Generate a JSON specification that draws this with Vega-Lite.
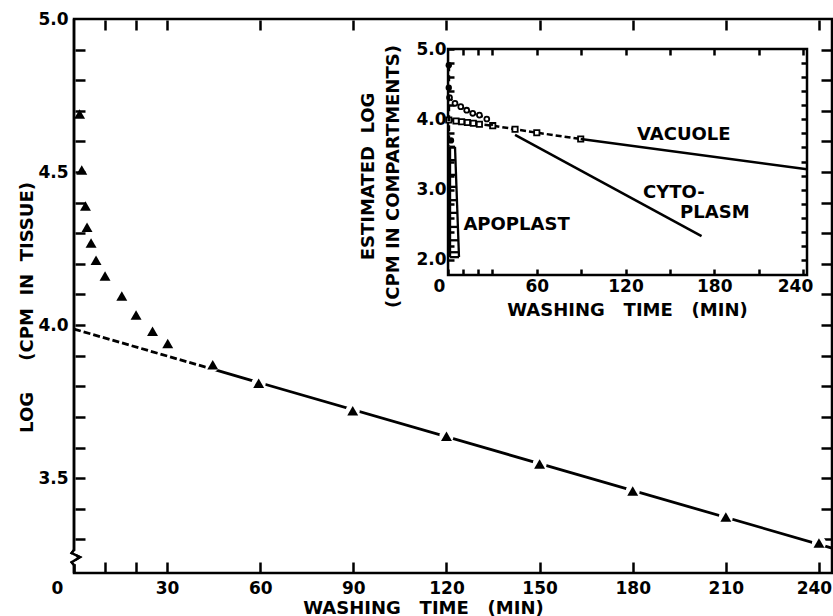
{
  "$schema": "https://vega.github.io/schema/vega-lite/v6.json",
  "width": 758,
  "height": 554,
  "autosize": "none",
  "padding": {"left": 74, "top": 19, "right": 1, "bottom": 43},
  "background": "white",
  "config": {
    "view": {"stroke": null},
    "axis": {
      "labelFont": "DejaVu Sans", "labelFontWeight": "bold", "labelFontSize": 17, "labelColor": "#000",
      "titleFont": "DejaVu Sans", "titleFontWeight": "bold", "titleFontSize": 18, "titleColor": "#000",
      "domainColor": "#000", "tickColor": "#000", "tickWidth": 2.5, "tickOpacity": 1, "domainWidth": 2.5,
      "grid": false, "labelFlush": false, "labelOverlap": false, "zindex": 1
    }
  },
  "resolve": {
    "scale": {"x": "independent", "y": "independent"},
    "axis": {"x": "independent", "y": "independent"}
  },
  "layer": [
    {
      "data": {"values": [{"t": 0, "v": 3.987}, {"t": 45, "v": 3.855}]},
      "mark": {"type": "line", "color": "#000", "strokeWidth": 2.8, "strokeDash": [7, 3]},
      "encoding": {
        "x": {"field": "t", "type": "quantitative", "scale": {"domain": [0, 244.2], "nice": false, "zero": false},
          "axis": {"orient": "bottom", "offset": -1, "domain": false, "values": [0, 10, 20, 30, 60, 90, 120, 150, 180, 210, 240],
            "labelExpr": "(datum.value == 10 || datum.value == 20) ? '' : datum.label",
            "tickSize": -10, "tickColor": "#000", "labelPadding": 18,
            "labelOffset": {"condition": [{"test": "datum.value === 0", "value": -17}, {"test": "datum.value === 240", "value": -5}], "value": 0},
            "title": "WASHING\u00a0\u00a0\u00a0TIME\u00a0\u00a0\u00a0(MIN)", "titleX": 349, "titleY": 41, "titleAlign": "center", "titleBaseline": "alphabetic"}},
        "y": {"field": "v", "type": "quantitative", "scale": {"domain": [3.19, 5.0], "nice": false, "zero": false},
          "axis": {"orient": "left", "offset": -1, "domain": false,
            "values": [3.3, 3.4, 3.5, 3.6, 3.7, 3.8, 3.9, 4.0, 4.1, 4.2, 4.3, 4.4, 4.5, 4.6, 4.7, 4.8, 4.9],
            "labelExpr": "''", "tickSize": -10, "tickColor": "#000", "title": null}}
      }
    },
    {
      "data": {"values": [{"t": 45, "v": 3.855}, {"t": 244.2, "v": 3.2715}]},
      "mark": {"type": "line", "color": "#000", "strokeWidth": 2.8},
      "encoding": {
        "x": {"field": "t", "type": "quantitative", "scale": {"domain": [0, 244.2], "nice": false, "zero": false},
          "axis": {"orient": "top", "offset": -1, "domain": false, "values": [10, 20, 30, 60, 90, 120, 150, 180, 210, 240], "labels": false, "tickSize": -10, "tickColor": "#000", "title": null}},
        "y": {"field": "v", "type": "quantitative", "scale": {"domain": [3.19, 5.0], "nice": false, "zero": false},
          "axis": {"orient": "right", "offset": -1, "domain": false, "values": [3.3, 3.4, 3.5, 3.6, 3.7, 3.8, 3.9, 4.0, 4.1, 4.2, 4.3, 4.4, 4.5, 4.6, 4.7, 4.8, 4.9], "labels": false, "tickSize": -10, "tickColor": "#000", "title": null}}
      }
    },
    {
      "data": {"values": [
        {"i": 0, "t": 0, "v": 5.0}, {"i": 1, "t": 0, "v": 3.265}, {"i": 2, "t": -0.74, "v": 3.255},
        {"i": 3, "t": 1.9, "v": 3.242}, {"i": 4, "t": -0.74, "v": 3.225}, {"i": 5, "t": 0, "v": 3.216}, {"i": 6, "t": 0, "v": 3.19}
      ]},
      "mark": {"type": "line", "color": "#000", "strokeWidth": 2.5},
      "encoding": {
        "x": {"field": "t", "type": "quantitative", "scale": {"domain": [0, 244.2], "nice": false, "zero": false}, "axis": null},
        "y": {"field": "v", "type": "quantitative", "scale": {"domain": [3.19, 5.0], "nice": false, "zero": false},
          "axis": {"orient": "left", "domain": false, "ticks": false,
            "values": [3.5, 4.0, 4.5, 5.0], "format": ".1f", "labelPadding": 6,
            "title": "LOG\u00a0\u00a0\u00a0\u00a0\u00a0(CPM\u00a0\u00a0IN\u00a0\u00a0TISSUE)", "titleX": -47, "titleY": 288, "titleAngle": 270, "titleAlign": "center", "titleBaseline": "middle"}},
        "order": {"field": "i"}
      }
    },
    {
      "data": {"values": [{}]},
      "mark": {"type": "rect", "fill": null, "stroke": "#000", "strokeWidth": 2.5},
      "encoding": {
        "x": {"datum": 0, "type": "quantitative", "scale": {"domain": [0, 244.2], "nice": false, "zero": false}, "axis": null},
        "x2": {"datum": 244.2},
        "y": {"datum": 3.19, "type": "quantitative", "scale": {"domain": [3.19, 5.0], "nice": false, "zero": false}, "axis": null},
        "y2": {"datum": 5.0}
      }
    },
    {
      "data": {"values": [{}]},
      "mark": {"type": "rule", "color": "white", "strokeWidth": 4},
      "encoding": {
        "x": {"datum": 0, "type": "quantitative", "scale": {"domain": [0, 244.2], "nice": false, "zero": false}, "axis": null},
        "y": {"datum": 3.262, "type": "quantitative", "scale": {"domain": [3.19, 5.0], "nice": false, "zero": false}, "axis": null},
        "y2": {"datum": 3.219}
      }
    },
    {
      "data": {"values": [
        {"i": 0, "t": 0, "v": 3.265}, {"i": 1, "t": -0.74, "v": 3.255},
        {"i": 2, "t": 1.9, "v": 3.242}, {"i": 3, "t": -0.74, "v": 3.225}, {"i": 4, "t": 0, "v": 3.216}
      ]},
      "mark": {"type": "line", "color": "#000", "strokeWidth": 2.5},
      "encoding": {
        "x": {"field": "t", "type": "quantitative", "scale": {"domain": [0, 244.2], "nice": false, "zero": false}, "axis": null},
        "y": {"field": "v", "type": "quantitative", "scale": {"domain": [3.19, 5.0], "nice": false, "zero": false}, "axis": null},
        "order": {"field": "i"}
      }
    },
    {
      "data": {"name": "tri", "values": [
        {"t": 1.8, "v": 4.69}, {"t": 2.5, "v": 4.507}, {"t": 3.7, "v": 4.389}, {"t": 4.2, "v": 4.32},
        {"t": 5.5, "v": 4.268}, {"t": 7.1, "v": 4.212}, {"t": 10, "v": 4.16}, {"t": 15.4, "v": 4.095},
        {"t": 20, "v": 4.033}, {"t": 25.3, "v": 3.98}, {"t": 30.2, "v": 3.94}, {"t": 44.7, "v": 3.87},
        {"t": 59.5, "v": 3.81}, {"t": 89.8, "v": 3.72}, {"t": 120, "v": 3.637}, {"t": 150, "v": 3.546},
        {"t": 180, "v": 3.458}, {"t": 210, "v": 3.373}, {"t": 240, "v": 3.288}
      ]},
      "transform": [{"filter": "datum.t > 40"}],
      "mark": {"type": "point", "shape": "circle", "filled": true, "color": "white", "opacity": 1, "size": 200},
      "encoding": {
        "x": {"field": "t", "type": "quantitative", "scale": {"domain": [0, 244.2], "nice": false, "zero": false}, "axis": null},
        "y": {"field": "v", "type": "quantitative", "scale": {"domain": [3.19, 5.0], "nice": false, "zero": false}, "axis": null}
      }
    },
    {
      "data": {"name": "tri"},
      "mark": {"type": "point", "shape": "triangle-up", "filled": true, "color": "#000", "opacity": 1, "size": 120},
      "encoding": {
        "x": {"field": "t", "type": "quantitative", "scale": {"domain": [0, 244.2], "nice": false, "zero": false}, "axis": null},
        "y": {"field": "v", "type": "quantitative", "scale": {"domain": [3.19, 5.0], "nice": false, "zero": false}, "axis": null}
      }
    },
    {
      "data": {"values": [{}]},
      "mark": {"type": "rect", "fill": null, "stroke": "#000", "strokeWidth": 2.5},
      "encoding": {
        "x": {"datum": 0, "type": "quantitative", "scale": {"domain": [-252.9, 259.6], "nice": false, "zero": false}, "axis": null},
        "x2": {"datum": 242.7},
        "y": {"datum": 1.787, "type": "quantitative", "scale": {"domain": [-2.451, 5.4266], "nice": false, "zero": false}, "axis": null},
        "y2": {"datum": 5.0}
      }
    },
    {
      "data": {"values": [
        {"t": 0.5, "v": 3.99}, {"t": 5.4, "v": 3.976}, {"t": 9.2, "v": 3.966}, {"t": 13.1, "v": 3.955},
        {"t": 17.1, "v": 3.945}, {"t": 21.2, "v": 3.93}, {"t": 30.2, "v": 3.91}, {"t": 45.3, "v": 3.86},
        {"t": 60, "v": 3.81}, {"t": 89.7, "v": 3.72}
      ]},
      "layer": [
        {"mark": {"type": "line", "color": "#000", "strokeWidth": 2.5, "strokeDash": [6, 3]}},
        {"mark": {"type": "point", "shape": "square", "filled": true, "fill": "white", "stroke": "#000", "strokeWidth": 1.8, "opacity": 1, "size": 28}}
      ],
      "encoding": {
        "x": {"field": "t", "type": "quantitative", "scale": {"domain": [-252.9, 259.6], "nice": false, "zero": false},
          "axis": {"orient": "bottom", "offset": -298, "domain": false,
            "values": [0, 10, 20, 30, 60, 90, 120, 150, 180, 210, 240],
            "labelExpr": "(datum.value % 60 == 0) ? datum.label : ''",
            "tickSize": -6, "labelPadding": 9,
            "labelOffset": {"condition": [{"test": "datum.value === 0", "value": -9}, {"test": "datum.value === 240", "value": -8}], "value": 0},
            "title": "WASHING\u00a0\u00a0\u00a0TIME\u00a0\u00a0\u00a0(MIN)", "titleX": 553, "titleY": 35, "titleAlign": "center", "titleBaseline": "middle"}},
        "y": {"field": "v", "type": "quantitative", "scale": {"domain": [-2.451, 5.4266], "nice": false, "zero": false},
          "axis": {"orient": "left", "offset": -374, "domain": false,
            "values": [2.0, 2.2, 2.4, 2.6, 2.8, 3.0, 3.2, 3.4, 3.6, 3.8, 4.0, 4.2, 4.4, 4.6, 4.8, 5.0],
            "format": ".1f", "labelExpr": "(round(datum.value * 10) % 10 == 0) ? datum.label : ''",
            "tickSize": -6, "labelPadding": 8,
            "title": ["ESTIMATED\u00a0\u00a0LOG", "(CPM\u00a0IN\u00a0COMPARTMENTS)"], "titleX": -80, "titleY": 157, "titleAngle": 270,
            "titleAlign": "center", "titleBaseline": "middle", "titleLineHeight": 25}}
      }
    },
    {
      "data": {"values": [{"t": 89.7, "v": 3.72}, {"t": 242.7, "v": 3.29}]},
      "mark": {"type": "line", "color": "#000", "strokeWidth": 2.5},
      "encoding": {
        "x": {"field": "t", "type": "quantitative", "scale": {"domain": [-252.9, 259.6], "nice": false, "zero": false},
          "axis": {"orient": "top", "offset": -30, "domain": false, "values": [10, 20, 30, 60, 90, 120, 150, 180, 210, 240], "labels": false, "tickSize": -6, "title": null}},
        "y": {"field": "v", "type": "quantitative", "scale": {"domain": [-2.451, 5.4266], "nice": false, "zero": false},
          "axis": {"orient": "right", "offset": -25, "domain": false, "values": [2.0, 2.2, 2.4, 2.6, 2.8, 3.0, 3.2, 3.4, 3.6, 3.8, 4.0, 4.2, 4.4, 4.6, 4.8], "labels": false, "tickSize": -6, "title": null}}
      }
    },
    {
      "data": {"values": [
        {"t": 1, "v": 4.31}, {"t": 4.7, "v": 4.228}, {"t": 8.6, "v": 4.18}, {"t": 12.6, "v": 4.13},
        {"t": 16.7, "v": 4.086}, {"t": 21.2, "v": 4.06}, {"t": 26.2, "v": 4.005}, {"t": 30.2, "v": 3.91}
      ]},
      "mark": {"type": "line", "color": "#000", "strokeWidth": 2.3, "strokeDash": [4, 3]},
      "encoding": {
        "x": {"field": "t", "type": "quantitative", "scale": {"domain": [-252.9, 259.6], "nice": false, "zero": false}, "axis": null},
        "y": {"field": "v", "type": "quantitative", "scale": {"domain": [-2.451, 5.4266], "nice": false, "zero": false}, "axis": null}
      }
    },
    {
      "data": {"values": [
        {"t": 1, "v": 4.31}, {"t": 4.7, "v": 4.228}, {"t": 8.6, "v": 4.18}, {"t": 12.6, "v": 4.13},
        {"t": 16.7, "v": 4.086}, {"t": 21.2, "v": 4.06}, {"t": 26.2, "v": 4.005}
      ]},
      "mark": {"type": "point", "shape": "circle", "filled": true, "fill": "white", "stroke": "#000", "strokeWidth": 1.8, "opacity": 1, "size": 24},
      "encoding": {
        "x": {"field": "t", "type": "quantitative", "scale": {"domain": [-252.9, 259.6], "nice": false, "zero": false}, "axis": null},
        "y": {"field": "v", "type": "quantitative", "scale": {"domain": [-2.451, 5.4266], "nice": false, "zero": false}, "axis": null}
      }
    },
    {
      "data": {"values": [{"t": 45.3, "v": 3.78}, {"t": 171.4, "v": 2.34}]},
      "mark": {"type": "line", "color": "#000", "strokeWidth": 2.5},
      "encoding": {
        "x": {"field": "t", "type": "quantitative", "scale": {"domain": [-252.9, 259.6], "nice": false, "zero": false}, "axis": null},
        "y": {"field": "v", "type": "quantitative", "scale": {"domain": [-2.451, 5.4266], "nice": false, "zero": false}, "axis": null}
      }
    },
    {
      "data": {"values": [{"t": 0.5, "v": 4.77}, {"t": 0.5, "v": 3.62}]},
      "mark": {"type": "line", "color": "#000", "strokeWidth": 2.8, "strokeDash": [6, 4]},
      "encoding": {
        "x": {"field": "t", "type": "quantitative", "scale": {"domain": [-252.9, 259.6], "nice": false, "zero": false}, "axis": null},
        "y": {"field": "v", "type": "quantitative", "scale": {"domain": [-2.451, 5.4266], "nice": false, "zero": false}, "axis": null}
      }
    },
    {
      "data": {"values": [{"t": 0.5, "v": 4.77}, {"t": 0.5, "v": 4.45}, {"t": 2, "v": 3.7}]},
      "mark": {"type": "point", "shape": "circle", "filled": true, "color": "#000", "opacity": 1, "size": 40},
      "encoding": {
        "x": {"field": "t", "type": "quantitative", "scale": {"domain": [-252.9, 259.6], "nice": false, "zero": false}, "axis": null},
        "y": {"field": "v", "type": "quantitative", "scale": {"domain": [-2.451, 5.4266], "nice": false, "zero": false}, "axis": null}
      }
    },
    {
      "data": {"values": [
        {"t0": 1.35, "v0": 3.61, "t1": 1.35, "v1": 2.04},
        {"t0": 4.7, "v0": 3.61, "t1": 7.4, "v1": 2.04},
        {"t0": 1.35, "v0": 3.61, "t1": 4.7, "v1": 3.61},
        {"t0": 1.35, "v0": 3.42, "t1": 5.03, "v1": 3.42},
        {"t0": 1.35, "v0": 3.21, "t1": 5.39, "v1": 3.21},
        {"t0": 1.35, "v0": 3.04, "t1": 5.68, "v1": 3.04},
        {"t0": 1.35, "v0": 2.85, "t1": 6.01, "v1": 2.85},
        {"t0": 1.35, "v0": 2.67, "t1": 6.32, "v1": 2.67},
        {"t0": 1.35, "v0": 2.47, "t1": 6.66, "v1": 2.47},
        {"t0": 1.35, "v0": 2.28, "t1": 6.99, "v1": 2.28},
        {"t0": 1.35, "v0": 2.11, "t1": 7.28, "v1": 2.11},
        {"t0": 1.35, "v0": 2.04, "t1": 7.4, "v1": 2.04}
      ]},
      "mark": {"type": "rule", "color": "#000", "strokeWidth": 2.3},
      "encoding": {
        "x": {"field": "t0", "type": "quantitative", "scale": {"domain": [-252.9, 259.6], "nice": false, "zero": false}, "axis": null},
        "x2": {"field": "t1"},
        "y": {"field": "v0", "type": "quantitative", "scale": {"domain": [-2.451, 5.4266], "nice": false, "zero": false}, "axis": null},
        "y2": {"field": "v1"}
      }
    },
    {
      "data": {"values": [
        {"t": 127.8, "v": 3.777, "label": "VACUOLE"},
        {"t": 131.8, "v": 2.953, "label": "CYTO-"},
        {"t": 156.9, "v": 2.672, "label": "PLASM"},
        {"t": 10.4, "v": 2.497, "label": "APOPLAST"}
      ]},
      "mark": {"type": "text", "font": "DejaVu Sans", "fontWeight": "bold", "fontSize": 18, "align": "left", "baseline": "middle", "color": "#000"},
      "encoding": {
        "x": {"field": "t", "type": "quantitative", "scale": {"domain": [-252.9, 259.6], "nice": false, "zero": false}, "axis": null},
        "y": {"field": "v", "type": "quantitative", "scale": {"domain": [-2.451, 5.4266], "nice": false, "zero": false}, "axis": null},
        "text": {"field": "label"}
      }
    }
  ]
}
